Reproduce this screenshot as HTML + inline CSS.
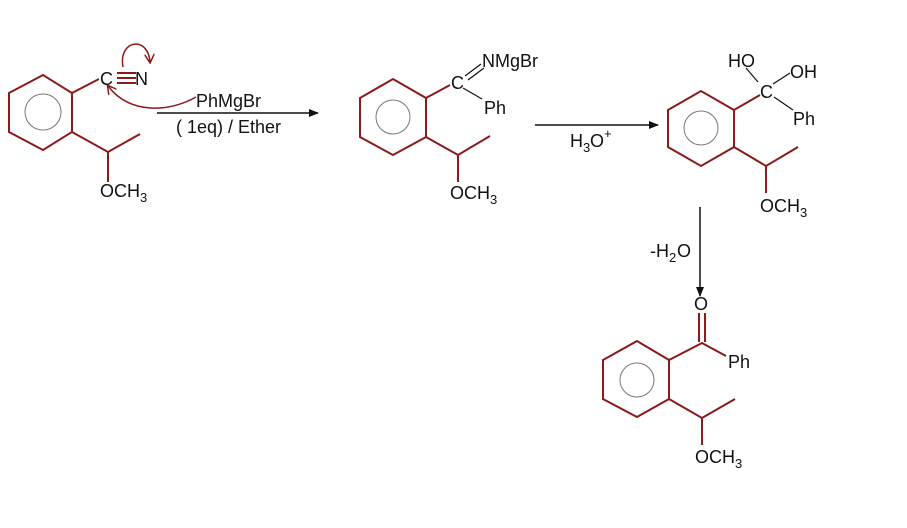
<!DOCTYPE html>
<html><head><style>
html,body{margin:0;padding:0;background:#fff;}
svg{display:block;}
text{font-family:"Liberation Sans",Arial,sans-serif;font-size:18px;fill:#111;}
.s{font-size:13px;}
</style></head><body>
<svg width="907" height="528" viewBox="0 0 907 528" xmlns="http://www.w3.org/2000/svg">
<defs>
<marker id="ah" markerWidth="10" markerHeight="8" refX="9" refY="4" orient="auto" markerUnits="userSpaceOnUse"><path d="M0,0 L10,4 L0,8 Z" fill="#111"/></marker>
<marker id="ahr" markerWidth="10" markerHeight="10" refX="8" refY="5" orient="auto" markerUnits="userSpaceOnUse"><path d="M0,0 L9,5 L0,10" fill="none" stroke="#8b1a1a" stroke-width="1.5"/></marker>
</defs>
<g fill="none" stroke="#8b1a1a" stroke-width="2">
<polygon points="9,93 43,75 72,93 72,132 43,150 9,132"/>
<line x1="72" y1="93" x2="99" y2="79"/>
<polyline points="72,132 108,152 140,134"/>
<line x1="108" y1="152" x2="108" y2="182"/>
<line x1="117" y1="73" x2="136" y2="73"/>
<line x1="117" y1="78" x2="136" y2="78"/>
<line x1="117" y1="83" x2="136" y2="83"/>
<polygon points="360,98 393,79 426,98 426,137 393,155 360,137"/>
<line x1="426" y1="98" x2="450" y2="85"/>
<polyline points="426,137 458,155 490,136"/>
<line x1="458" y1="155" x2="458" y2="182"/>
<polygon points="668,110 701,91 734,110 734,147 701,166 668,147"/>
<line x1="734" y1="110" x2="760" y2="95"/>
<polyline points="734,147 766,166 798,147"/>
<line x1="766" y1="166" x2="766" y2="193"/>
<polygon points="603,360 637,341 669,360 669,399 637,417 603,399"/>
<polyline points="669,360 702,343 726,356"/>
<line x1="699" y1="313" x2="699" y2="342"/>
<line x1="705" y1="313" x2="705" y2="342"/>
<polyline points="669,399 702,418 735,399"/>
<line x1="702" y1="418" x2="702" y2="445"/>
</g>
<g fill="none" stroke="#111" stroke-width="1.2">
<line x1="465" y1="76" x2="481" y2="64"/>
<line x1="468" y1="80" x2="484" y2="68"/>
<line x1="463" y1="88" x2="482" y2="99"/>
<line x1="758" y1="82" x2="746" y2="68"/>
<line x1="773" y1="84" x2="790" y2="73"/>
<line x1="774" y1="97" x2="793" y2="110"/>
</g>
<g fill="none" stroke="#777" stroke-width="1">
<circle cx="43" cy="112" r="18"/>
<circle cx="393" cy="117" r="17"/>
<circle cx="701" cy="128" r="17"/>
<circle cx="637" cy="380" r="17"/>
</g>
<path d="M123,67 C118,40 148,35 150,62" fill="none" stroke="#8b1a1a" stroke-width="1.5" marker-end="url(#ahr)"/>
<path d="M196,97 C170,112 130,115 108,86" fill="none" stroke="#8b1a1a" stroke-width="1.5" marker-end="url(#ahr)"/>
<g stroke="#111" stroke-width="1.5">
<line x1="157" y1="113" x2="318" y2="113" marker-end="url(#ah)"/>
<line x1="535" y1="125" x2="658" y2="125" marker-end="url(#ah)"/>
<line x1="700" y1="207" x2="700" y2="296" marker-end="url(#ah)"/>
</g>
<text x="100" y="85">C</text><text x="135" y="85">N</text>
<text x="196" y="107">PhMgBr</text>
<text x="176" y="133">( 1eq) / Ether</text>
<text x="100" y="197">OCH</text><text class="s" x="140" y="202">3</text>
<text x="451" y="89">C</text>
<text x="482" y="67">NMgBr</text>
<text x="484" y="114">Ph</text>
<text x="450" y="199">OCH</text><text class="s" x="490" y="204">3</text>
<text x="570" y="147">H</text><text class="s" x="583" y="152">3</text><text x="590" y="147">O</text><text class="s" x="604" y="138">+</text>
<text x="728" y="67">HO</text>
<text x="790" y="78">OH</text>
<text x="760" y="98">C</text>
<text x="793" y="125">Ph</text>
<text x="760" y="212">OCH</text><text class="s" x="800" y="217">3</text>
<text x="650" y="257">-H</text><text class="s" x="669" y="262">2</text><text x="677" y="257">O</text>
<text x="694" y="310">O</text>
<text x="728" y="368">Ph</text>
<text x="695" y="463">OCH</text><text class="s" x="735" y="468">3</text>
</svg>
</body></html>
